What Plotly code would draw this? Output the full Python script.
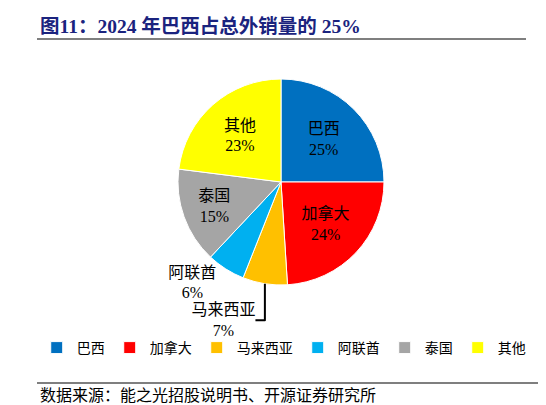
import plotly.graph_objects as go

labels = ["巴西", "加拿大", "马来西亚", "阿联酋", "泰国", "其他"]
values = [25, 24, 7, 6, 15, 23]
colors = ["#0070C0", "#FF0000", "#FFC000", "#00B0F0", "#A5A5A5", "#FFFF00"]
positions = ["inside", "inside", "outside", "outside", "inside", "inside"]

title_text = "图11：2024 年巴西占总外销量的 25%"
source_text = "数据来源：能之光招股说明书、开源证券研究所"

serif = "Liberation Serif, Noto Sans CJK SC, serif"

fig = go.Figure(go.Pie(
    labels=labels,
    values=values,
    sort=False,
    direction="clockwise",
    rotation=0,
    marker=dict(colors=colors, line=dict(color="white", width=1)),
    textposition=positions,
    texttemplate="%{label}<br>%{value}%",
    insidetextorientation="horizontal",
    textfont=dict(family=serif, size=16, color="black"),
    hoverinfo="label+percent",
    domain=dict(x=[170 / 546, 376 / 546], y=[128 / 405, 334 / 405]),
))

fig.update_layout(
    width=546, height=405,
    margin=dict(l=0, r=0, t=0, b=0),
    paper_bgcolor="white",
    showlegend=True,
    legend=dict(orientation="h", x=0.505, xanchor="center", y=1 - 340 / 405, yanchor="middle",
                font=dict(family=serif, size=14, color="black"),
                bgcolor="rgba(0,0,0,0)",
                itemwidth=30, tracegroupgap=0),
    annotations=[
        dict(text="<b>" + title_text + "</b>", x=30 / 546, y=1 - 18 / 405, xref="paper", yref="paper",
             xanchor="left", yanchor="middle", showarrow=False,
             font=dict(family=serif, size=19.5, color="#1A237E")),
        dict(text=source_text, x=30 / 546, y=1 - 387 / 405, xref="paper", yref="paper",
             xanchor="left", yanchor="middle", showarrow=False,
             font=dict(family=serif, size=16, color="black")),
    ],
    shapes=[
        dict(type="line", xref="paper", yref="paper", x0=29 / 546, x1=518 / 546,
             y0=1 - 31 / 405, y1=1 - 31 / 405, line=dict(color="black", width=1.2)),
        dict(type="line", xref="paper", yref="paper", x0=29 / 546, x1=541 / 546,
             y0=1 - 375 / 405, y1=1 - 375 / 405, line=dict(color="black", width=1.2)),
    ],
)

fig.write_html("out.html")
